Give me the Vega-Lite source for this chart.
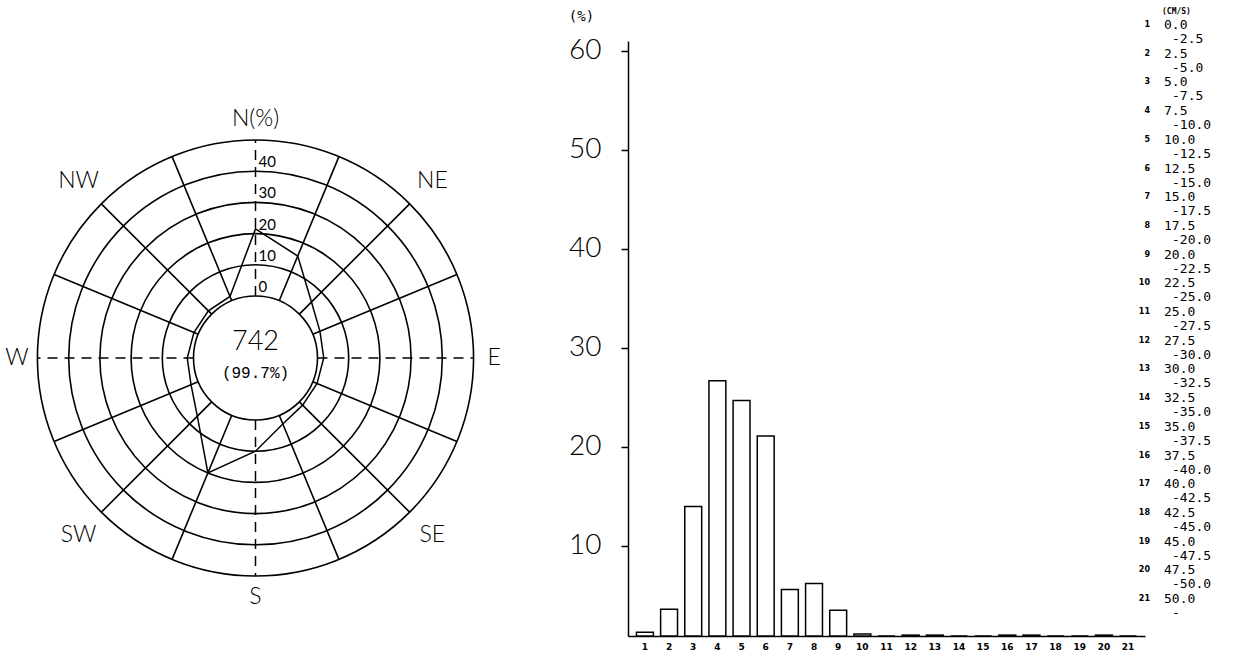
{
  "$schema": "https://vega.github.io/schema/vega-lite/v6.json",
  "background": "white",
  "padding": {"left": 0, "top": 7, "right": 0, "bottom": 0},
  "config": {"view": {"stroke": null}},
  "datasets": {
    "rose": [
      {"dir": 0, "name": "N", "pct": 21.5},
      {"dir": 22.5, "name": "NNE", "pct": 15.5},
      {"dir": 45, "name": "NE", "pct": 5.5},
      {"dir": 67.5, "name": "ENE", "pct": 2.5},
      {"dir": 90, "name": "E", "pct": 2},
      {"dir": 112.5, "name": "ESE", "pct": 1.5},
      {"dir": 135, "name": "SE", "pct": 1.5},
      {"dir": 157.5, "name": "SSE", "pct": 3},
      {"dir": 180, "name": "S", "pct": 10},
      {"dir": 202.5, "name": "SSW", "pct": 20},
      {"dir": 225, "name": "SW", "pct": 6.5},
      {"dir": 247.5, "name": "WSW", "pct": 2.5},
      {"dir": 270, "name": "W", "pct": 2},
      {"dir": 292.5, "name": "WNW", "pct": 1.5},
      {"dir": 315, "name": "NW", "pct": 1.5},
      {"dir": 337.5, "name": "NNW", "pct": 1.5}
    ],
    "rings": [{"pct": 0}, {"pct": 10}, {"pct": 20}, {"pct": 30}, {"pct": 40}, {"pct": 50}],
    "compass": [
      {"dir": 0, "label": "N(%)"}, {"dir": 45, "label": "NE"}, {"dir": 90, "label": "E"}, {"dir": 135, "label": "SE"},
      {"dir": 180, "label": "S"}, {"dir": 225, "label": "SW"}, {"dir": 270, "label": "W"}, {"dir": 315, "label": "NW"}
    ],
    "summary": [{"count": 742, "ratio": "(99.7%)"}],
    "speed": [
      {"bin": 1, "pct": 1.3, "lo": "0.0", "hi": "-2.5"},
      {"bin": 2, "pct": 3.6, "lo": "2.5", "hi": "-5.0"},
      {"bin": 3, "pct": 14.0, "lo": "5.0", "hi": "-7.5"},
      {"bin": 4, "pct": 26.7, "lo": "7.5", "hi": "-10.0"},
      {"bin": 5, "pct": 24.7, "lo": "10.0", "hi": "-12.5"},
      {"bin": 6, "pct": 21.1, "lo": "12.5", "hi": "-15.0"},
      {"bin": 7, "pct": 5.6, "lo": "15.0", "hi": "-17.5"},
      {"bin": 8, "pct": 6.2, "lo": "17.5", "hi": "-20.0"},
      {"bin": 9, "pct": 3.5, "lo": "20.0", "hi": "-22.5"},
      {"bin": 10, "pct": 1.1, "lo": "22.5", "hi": "-25.0"},
      {"bin": 11, "pct": 0, "lo": "25.0", "hi": "-27.5"},
      {"bin": 12, "pct": 1.0, "lo": "27.5", "hi": "-30.0"},
      {"bin": 13, "pct": 1.0, "lo": "30.0", "hi": "-32.5"},
      {"bin": 14, "pct": 0, "lo": "32.5", "hi": "-35.0"},
      {"bin": 15, "pct": 0, "lo": "35.0", "hi": "-37.5"},
      {"bin": 16, "pct": 1.0, "lo": "37.5", "hi": "-40.0"},
      {"bin": 17, "pct": 1.0, "lo": "40.0", "hi": "-42.5"},
      {"bin": 18, "pct": 0, "lo": "42.5", "hi": "-45.0"},
      {"bin": 19, "pct": 0, "lo": "45.0", "hi": "-47.5"},
      {"bin": 20, "pct": 1.0, "lo": "47.5", "hi": "-50.0"},
      {"bin": 21, "pct": 0, "lo": "50.0", "hi": "-"}
    ]
  },
  "bounds": "flush",
  "spacing": 5,
  "hconcat": [
    {
      "width": 623,
      "height": 595,
      "layer": [
        {
          "data": {"name": "rings"},
          "mark": {"type": "arc", "filled": false, "stroke": "black", "strokeWidth": 1.6},
          "encoding": {
            "x": {"datum": 0, "type": "quantitative", "scale": {"domain": [-81.89, 117.79], "nice": false, "zero": false}, "axis": null},
            "y": {"datum": 0, "type": "quantitative", "scale": {"domain": [-89.1, 101.6], "nice": false, "zero": false}, "axis": null},
            "theta": {"datum": 360, "type": "quantitative", "stack": null, "scale": {"type": "linear", "domain": [0, 360], "range": [0, 6.283185307179586]}},
            "radius": {"field": "pct", "type": "quantitative", "stack": null, "scale": {"type": "linear", "domain": [-19.87, 50], "range": [0, 218], "zero": false, "nice": false}},
            "radius2": {"value": 0}
          }
        },
        {
          "data": {"name": "rose"},
          "transform": [{"filter": "datum.dir % 90 != 0"}],
          "mark": {"type": "arc", "filled": false, "stroke": "black", "strokeWidth": 1.6},
          "encoding": {
            "x": {"datum": 0, "type": "quantitative", "scale": {"domain": [-81.89, 117.79], "nice": false, "zero": false}, "axis": null},
            "y": {"datum": 0, "type": "quantitative", "scale": {"domain": [-89.1, 101.6], "nice": false, "zero": false}, "axis": null},
            "theta": {"field": "dir", "type": "quantitative", "stack": null, "scale": {"type": "linear", "domain": [0, 360], "range": [0, 6.283185307179586]}},
            "theta2": {"field": "dir"},
            "radius": {"datum": 50, "type": "quantitative", "stack": null, "scale": {"type": "linear", "domain": [-19.87, 50], "range": [0, 218], "zero": false, "nice": false}},
            "radius2": {"datum": 0}
          }
        },
        {
          "data": {"name": "rose"},
          "transform": [
            {"filter": "datum.dir % 90 == 0"},
            {"calculate": "19.87*sin(datum.dir*PI/180)", "as": "ax"},
            {"calculate": "19.87*cos(datum.dir*PI/180)", "as": "ay"},
            {"calculate": "69.87*sin(datum.dir*PI/180)", "as": "bx"},
            {"calculate": "69.87*cos(datum.dir*PI/180)", "as": "by"}
          ],
          "mark": {"type": "rule", "color": "black", "strokeWidth": 1.5, "strokeDash": [10, 7]},
          "encoding": {
            "x": {"field": "ax", "type": "quantitative", "scale": {"domain": [-81.89, 117.79], "nice": false, "zero": false}, "axis": null},
            "y": {"field": "ay", "type": "quantitative", "scale": {"domain": [-89.1, 101.6], "nice": false, "zero": false}, "axis": null},
            "x2": {"field": "bx"},
            "y2": {"field": "by"}
          }
        },
        {
          "data": {"name": "rose"},
          "transform": [
            {"calculate": "(datum.pct+19.87)*sin(datum.dir*PI/180)", "as": "px"},
            {"calculate": "(datum.pct+19.87)*cos(datum.dir*PI/180)", "as": "py"}
          ],
          "mark": {"type": "line", "interpolate": "linear-closed", "color": "black", "strokeWidth": 1.5},
          "encoding": {
            "x": {"field": "px", "type": "quantitative", "scale": {"domain": [-81.89, 117.79], "nice": false, "zero": false}, "axis": null},
            "y": {"field": "py", "type": "quantitative", "scale": {"domain": [-89.1, 101.6], "nice": false, "zero": false}, "axis": null},
            "order": {"field": "dir", "type": "quantitative"}
          }
        },
        {
          "data": {"name": "compass"},
          "transform": [{"filter": "datum.dir % 90 == 0"}],
          "mark": {"type": "text", "font": "Lato", "fontWeight": 300, "fontSize": 23, "color": "black"},
          "encoding": {
            "x": {"datum": 0, "type": "quantitative", "scale": {"domain": [-81.89, 117.79], "nice": false, "zero": false}, "axis": null},
            "y": {"datum": 0, "type": "quantitative", "scale": {"domain": [-89.1, 101.6], "nice": false, "zero": false}, "axis": null},
            "theta": {"field": "dir", "type": "quantitative", "stack": null, "scale": {"type": "linear", "domain": [0, 360], "range": [0, 6.283185307179586]}},
            "radius": {"datum": 56.6, "type": "quantitative", "stack": null, "scale": {"type": "linear", "domain": [-19.87, 50], "range": [0, 218], "zero": false, "nice": false}},
            "text": {"field": "label", "type": "nominal"}
          }
        },
        {
          "data": {"name": "compass"},
          "transform": [{"filter": "datum.dir % 90 != 0"}],
          "mark": {"type": "text", "font": "Lato", "fontWeight": 300, "fontSize": 23, "color": "black"},
          "encoding": {
            "x": {"datum": 0, "type": "quantitative", "scale": {"domain": [-81.89, 117.79], "nice": false, "zero": false}, "axis": null},
            "y": {"datum": 0, "type": "quantitative", "scale": {"domain": [-89.1, 101.6], "nice": false, "zero": false}, "axis": null},
            "theta": {"field": "dir", "type": "quantitative", "stack": null, "scale": {"type": "linear", "domain": [0, 360], "range": [0, 6.283185307179586]}},
            "radius": {"datum": 60.3, "type": "quantitative", "stack": null, "scale": {"type": "linear", "domain": [-19.87, 50], "range": [0, 218], "zero": false, "nice": false}},
            "text": {"field": "label", "type": "nominal"}
          }
        },
        {
          "data": {"name": "rings"},
          "transform": [{"filter": "datum.pct <= 40"}],
          "mark": {"type": "text", "align": "left", "baseline": "bottom", "dx": 3, "dy": -1, "font": "Lato", "fontSize": 15, "color": "black"},
          "encoding": {
            "x": {"datum": 0, "type": "quantitative", "scale": {"domain": [-81.89, 117.79], "nice": false, "zero": false}, "axis": null},
            "y": {"datum": 0, "type": "quantitative", "scale": {"domain": [-89.1, 101.6], "nice": false, "zero": false}, "axis": null},
            "theta": {"datum": 0, "type": "quantitative", "stack": null, "scale": {"type": "linear", "domain": [0, 360], "range": [0, 6.283185307179586]}},
            "radius": {"field": "pct", "type": "quantitative", "stack": null, "scale": {"type": "linear", "domain": [-19.87, 50], "range": [0, 218], "zero": false, "nice": false}},
            "text": {"field": "pct", "type": "quantitative", "format": "d"}
          }
        },
        {
          "data": {"name": "summary"},
          "mark": {"type": "text", "font": "Lato", "fontWeight": 300, "fontSize": 27, "dy": -16, "color": "black"},
          "encoding": {
            "x": {"datum": 0, "type": "quantitative", "scale": {"domain": [-81.89, 117.79], "nice": false, "zero": false}, "axis": null},
            "y": {"datum": 0, "type": "quantitative", "scale": {"domain": [-89.1, 101.6], "nice": false, "zero": false}, "axis": null},
            "text": {"field": "count", "type": "quantitative", "format": "d"}
          }
        },
        {
          "data": {"name": "summary"},
          "mark": {"type": "text", "font": "Liberation Mono", "fontSize": 16, "dy": 15, "color": "black"},
          "encoding": {
            "x": {"datum": 0, "type": "quantitative", "scale": {"domain": [-81.89, 117.79], "nice": false, "zero": false}, "axis": null},
            "y": {"datum": 0, "type": "quantitative", "scale": {"domain": [-89.1, 101.6], "nice": false, "zero": false}, "axis": null},
            "text": {"field": "ratio", "type": "nominal"}
          }
        }
      ]
    },
    {
      "width": 517,
      "height": 595,
      "data": {"name": "speed"},
      "mark": {"type": "bar", "fill": "white", "stroke": "black", "strokeWidth": 1.5},
      "encoding": {
        "x": {
          "field": "bin", "type": "ordinal",
          "scale": {"paddingInner": 0.3, "paddingOuter": 0.35},
          "axis": {"title": null, "labelAngle": 0, "ticks": false, "domainColor": "black", "domainWidth": 1.5, "labelFont": "DejaVu Sans", "labelFontWeight": "bold", "labelFontSize": 9, "labelColor": "black", "labelPadding": 6}
        },
        "y": {
          "field": "pct", "type": "quantitative",
          "scale": {"domain": [0.91, 61], "nice": false, "zero": false, "clamp": true},
          "axis": {
            "values": [10, 20, 30, 40, 50, 60], "grid": false,
            "title": "(%)", "titleAngle": 0, "titleX": -47, "titleY": -25, "titleAlign": "center", "titleBaseline": "middle",
            "titleFont": "DejaVu Sans Mono", "titleFontSize": 14, "titleFontWeight": "normal", "titleColor": "black",
            "tickSize": 7, "tickColor": "black", "tickWidth": 1.5, "domainColor": "black", "domainWidth": 1.5,
            "labelFont": "Lato", "labelFontWeight": 300, "labelFontSize": 28, "labelColor": "black", "labelPadding": 20, "labelBaseline": "middle"
          }
        }
      }
    },
    {
      "width": 60,
      "height": 595,
      "data": {"name": "speed"},
      "layer": [
        {
          "mark": {"type": "text", "align": "right", "dx": -30, "font": "DejaVu Sans", "fontWeight": "bold", "fontSize": 8, "color": "black"},
          "encoding": {
            "y": {"field": "bin", "type": "quantitative", "scale": {"domain": [1.5575, 22.289], "reverse": true, "nice": false, "zero": false}, "axis": null},
            "text": {"field": "bin", "type": "quantitative", "format": "d"}
          }
        },
        {
          "mark": {"type": "text", "align": "left", "dx": -16, "font": "DejaVu Sans Mono", "fontSize": 13, "color": "black"},
          "encoding": {
            "y": {"field": "bin", "type": "quantitative", "scale": {"domain": [1.5575, 22.289], "reverse": true, "nice": false, "zero": false}, "axis": null},
            "text": {"field": "lo", "type": "nominal"}
          }
        },
        {
          "mark": {"type": "text", "align": "left", "dx": -8, "dy": 14, "font": "DejaVu Sans Mono", "fontSize": 13, "color": "black"},
          "encoding": {
            "y": {"field": "bin", "type": "quantitative", "scale": {"domain": [1.5575, 22.289], "reverse": true, "nice": false, "zero": false}, "axis": null},
            "text": {"field": "hi", "type": "nominal"}
          }
        },
        {
          "data": {"values": [{"unit": "(CM/S)"}]},
          "mark": {"type": "text", "align": "left", "dx": -18, "dy": -13, "font": "DejaVu Sans Mono", "fontWeight": "bold", "fontSize": 8, "color": "black"},
          "encoding": {
            "y": {"datum": 1, "type": "quantitative", "scale": {"domain": [1.5575, 22.289], "reverse": true, "nice": false, "zero": false}, "axis": null},
            "text": {"field": "unit", "type": "nominal"}
          }
        }
      ]
    }
  ]
}
